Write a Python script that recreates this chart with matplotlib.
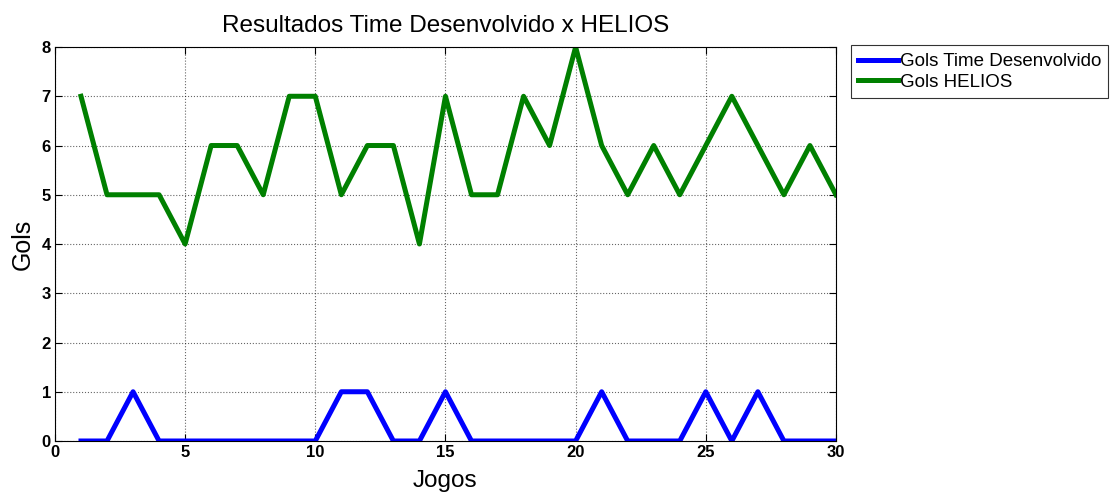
import matplotlib.pyplot as plt

plt.rcParams['font.family'] = ['Liberation Sans', 'DejaVu Sans']

# dados dos jogos
jogos = list(range(1, 31))
gols_time = [0, 0, 1, 0, 0, 0, 0, 0, 0, 0, 1, 1, 0, 0, 1,
             0, 0, 0, 0, 0, 1, 0, 0, 0, 1, 0, 1, 0, 0, 0]
gols_helios = [7, 5, 5, 5, 4, 6, 6, 5, 7, 7, 5, 6, 6, 4, 7,
               5, 5, 7, 6, 8, 6, 5, 6, 5, 6, 7, 6, 5, 6, 5]

fig = plt.figure(figsize=(11.17, 4.95), dpi=100)
ax = fig.add_axes([0.0492, 0.1091, 0.6992, 0.7959])

ax.plot(jogos, gols_time, color=(0, 0, 1), linewidth=3.6, label='Gols Time Desenvolvido')
ax.plot(jogos, gols_helios, color=(0, 0.5, 0), linewidth=3.6, label='Gols HELIOS')

ax.set_xlim(0, 30)
ax.set_ylim(0, 8)
ax.set_xticks(range(0, 31, 5))
ax.set_yticks(range(0, 9))
ax.grid(True, linestyle=':', color='black', linewidth=0.8, alpha=0.6)
ax.tick_params(direction='in', top=True, right=True, labelsize=12, length=5, pad=3)
for lbl in ax.get_xticklabels() + ax.get_yticklabels():
    lbl.set_fontweight('bold')

ax.set_title('Resultados Time Desenvolvido x HELIOS', fontsize=17.5, pad=11)
ax.set_xlabel('Jogos', fontsize=17.5, labelpad=7)
ax.set_ylabel('Gols', fontsize=18, labelpad=5)

leg = ax.legend(loc='upper left', bbox_to_anchor=(1.019, 1.004), fontsize=13.5,
                frameon=True, fancybox=False, edgecolor='black', handlelength=2.1,
                handletextpad=0.1, borderpad=0.4, labelspacing=0.2, borderaxespad=0)
leg.get_frame().set_linewidth(0.8)

fig.savefig('out.png', dpi=100)
